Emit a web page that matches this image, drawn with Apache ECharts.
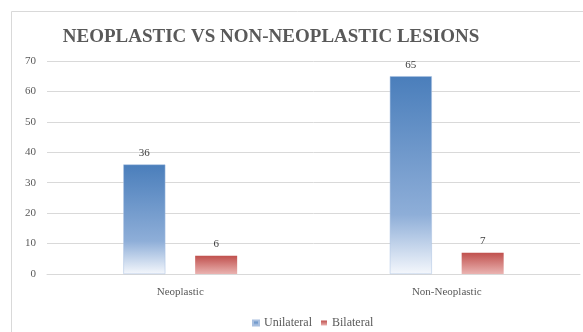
<!DOCTYPE html>
<html>
<head>
<meta charset="utf-8">
<script src="https://cdn.jsdelivr.net/npm/echarts@6/dist/echarts.min.js"></script>
<style>
  html, body { margin: 0; padding: 0; background: #fff; }
  #chart { width: 583px; height: 332px; }
</style>
</head>
<body>
<div id="chart"></div>
<script>
const categories = ['Neoplastic', 'Non-Neoplastic'];
const unilateral = [36, 65];
const bilateral = [6, 7];
const yTicks = [0, 10, 20, 30, 40, 50, 60, 70];

const serif = '"Liberation Serif", "DejaVu Serif", serif';
const textColor = '#595959';

// 竖向渐变：上深下浅
const blueFill = new echarts.graphic.LinearGradient(0, 0, 0, 1, [
  { offset: 0, color: '#4a7ebb' },
  { offset: 0.7, color: '#8eaed8' },
  { offset: 1, color: '#f4f7fc' }
]);
const redFill = new echarts.graphic.LinearGradient(0, 0, 0, 1, [
  { offset: 0, color: '#c0504d' },
  { offset: 1, color: '#eab3b1' }
]);

const chart = echarts.init(document.getElementById('chart'));

const option = {
  backgroundColor: '#ffffff',
  animation: false,
  graphic: [{
    type: 'rect',
    shape: { x: 11.5, y: 11.5, width: 600, height: 400 },
    style: { fill: 'none', stroke: '#d9d9d9', lineWidth: 1 },
    silent: true
  }],
  title: {
    text: 'NEOPLASTIC VS NON-NEOPLASTIC LESIONS',
    left: 266,
    textAlign: 'center',
    top: 23,
    textStyle: {
      fontFamily: serif,
      fontWeight: 'bold',
      fontSize: 19,
      color: textColor
    }
  },
  legend: {
    data: ['Unilateral', 'Bilateral'],
    left: 247,
    top: 312,
    itemWidth: 6,
    itemHeight: 5,
    itemGap: 9,
    icon: 'rect',
    textStyle: { fontFamily: serif, fontSize: 12, color: textColor }
  },
  grid: {
    left: 47,
    right: 3,
    top: 61,
    bottom: 58,
    containLabel: false
  },
  xAxis: {
    type: 'category',
    data: categories,
    axisTick: { show: false },
    axisLine: { lineStyle: { color: '#d9d9d9' } },
    axisLabel: { fontFamily: serif, fontSize: 11, color: textColor, margin: 13 }
  },
  yAxis: {
    type: 'value',
    min: yTicks[0],
    max: yTicks[yTicks.length - 1],
    interval: 10,
    axisLine: { show: false },
    axisTick: { show: false },
    splitLine: { lineStyle: { color: '#d9d9d9' } },
    axisLabel: { fontFamily: serif, fontSize: 11, color: textColor, margin: 11 }
  },
  series: [
    {
      name: 'Unilateral',
      type: 'bar',
      data: unilateral,
      barWidth: 42,
      barGap: '71%',
      itemStyle: { color: blueFill, borderColor: '#a9c0e0', borderWidth: 0.5 },
      label: { show: true, position: 'top', distance: 6, fontFamily: serif, fontSize: 11, color: '#404040' }
    },
    {
      name: 'Bilateral',
      type: 'bar',
      data: bilateral,
      barWidth: 42,
      itemStyle: { color: redFill },
      label: { show: true, position: 'top', distance: 6, fontFamily: serif, fontSize: 11, color: '#404040' }
    }
  ]
};

chart.setOption(option);
</script>
</body>
</html>
